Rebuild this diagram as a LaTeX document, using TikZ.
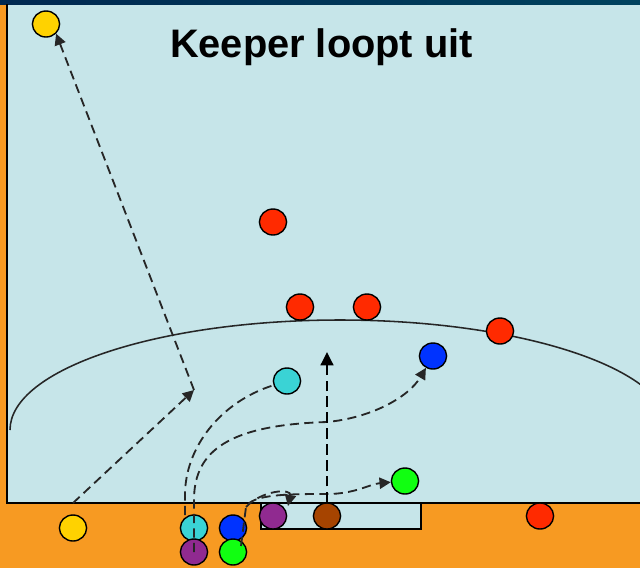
\documentclass[tikz,border=0pt]{standalone}
\usepackage{fontspec}
\setmainfont{Liberation Sans}
\usetikzlibrary{arrows.meta,shapes.geometric}
\definecolor{veld}{HTML}{C6E5E9}
\definecolor{oranje}{HTML}{F79A22}
\definecolor{balk}{HTML}{002850}
\definecolor{geel}{HTML}{FFD200}
\definecolor{rood}{HTML}{FF2A00}
\definecolor{blauw}{HTML}{0033FF}
\definecolor{turkoois}{HTML}{3AD3D5}
\definecolor{groen}{HTML}{11FF11}
\definecolor{paars}{HTML}{902A90}
\definecolor{bruin}{HTML}{A64400}

\begin{document}
\begin{tikzpicture}[x=0.025cm,y=-0.025cm,
  speler/.style={ellipse,draw=black,line width=1pt,minimum width=0.68cm,minimum height=0.65cm,inner sep=0pt},
  loop/.style={line width=1.3pt,black!85,dash pattern=on 6.5pt off 3.8pt,-{Triangle[length=8pt,width=8pt]}},
  loopdik/.style={line width=1.8pt,black,dash pattern=on 7.5pt off 3.8pt,-{Triangle[length=9.5pt,width=9pt]}}]
			%%%%% START %%%%%
			\clip (0,0) rectangle (640,568);
			
			\fill[oranje] (0,0) rectangle (640,568);
			\fill[veld] (7,0) rectangle (650,503);
			\shade[left color=balk, right color=balk!70!teal] (0,0) rectangle (640,4);
			\draw[line width=1.6pt] (7,4) -- (7,503) -- (650,503);
			
			% cirkel
			\draw[line width=1.1pt, black!85] (10,430) arc (180:340:330 and 110);
			
			% doel
			\draw[line width=1.3pt, fill=veld] (261,503) rectangle (421,529);
			
			\node[font=\fontsize{28.3}{34}\selectfont\bfseries, anchor=base] (titel) at (321.5,57.5) {Keeper loopt uit};
			
			% spelers
			\node[speler, fill=geel] (ytop) at (46,24) {};
			\node[speler, fill=rood] (r1) at (273,222) {};
			\node[speler, fill=rood] (r2) at (300,307) {};
			\node[speler, fill=rood] (r3) at (367,307) {};
			\node[speler, fill=rood] (r4) at (500,331) {};
			\node[speler, fill=rood] (r5) at (540,516) {};
			\node[speler, fill=blauw] (btop) at (433,356) {};
			\node[speler, fill=turkoois] (ctop) at (287,381) {};
			\node[speler, fill=groen] (gtop) at (405,481) {};
			\node[speler, fill=geel] (ybot) at (73,528) {};
			\node[speler, fill=turkoois] (cbot) at (194,528) {};
			\node[speler, fill=paars] (pbot) at (194,552) {};
			\node[speler, fill=blauw] (bbot) at (233,528) {};
			\node[speler, fill=groen] (gbot) at (233,552) {};
			\node[speler, fill=paars] (kpr) at (273,516) {};
			\node[speler, fill=bruin] (brn) at (327,516) {};
			
			% looplijnen
			\coordinate (yrun) at (73,503);
			\coordinate (meet) at (194,390);
			\coordinate (crun) at (185,515);
			\coordinate (grun) at (241,546);
			\coordinate (dtip) at (288,506);
			\coordinate (bup) at (327,352);
			
			\draw[loop] (yrun) -- (meet);
			\draw[loop] (meet) -- (ytop.south east);
			\draw[loop, -] (crun) -- (185,495) .. controls (185,448) and (220,402) .. (ctop);
			\draw[loop] (pbot.center) -- (194,500) .. controls (194,450) and (230,425) .. (327,422) .. controls (370,418) and (408,398) .. (btop);
			\draw[loop] (grun) -- (246,507) .. controls (252,494) and (290,494) .. (327,494) .. controls (355,494) and (370,484) .. (gtop);
			\draw[loop] (246,507) .. controls (262,490) and (292,488) .. (dtip);
			\draw[loopdik] (brn.north) -- (bup);
			%%%%% END %%%%%
\end{tikzpicture}
\end{document}
